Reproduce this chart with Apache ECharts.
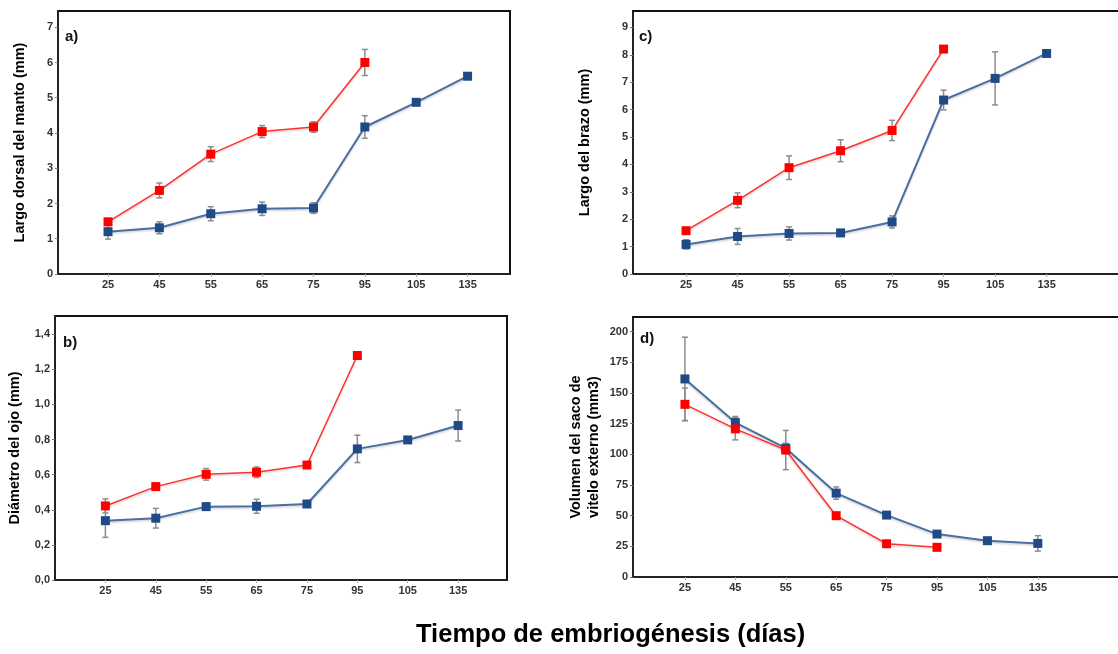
<!DOCTYPE html>
<html>
<head>
<meta charset="utf-8">
<script src="https://cdn.jsdelivr.net/npm/echarts@6/dist/echarts.min.js"></script>
<style>
    html, body { margin: 0; padding: 0; background: #fff; }
    #chart { width: 1118px; height: 654px; }
</style>
</head>
<body>
<div id="chart"></div>
<script>
// dias de embriogenesis (una posicion por categoria)
const days = ['25', '45', '55', '65', '75', '95', '105', '135'];
const dayIdx = [0, 1, 2, 3, 4, 5, 6, 7];

// a) largo dorsal del manto (mm)
const mantoRed = [1.48, 2.37, 3.40, 4.04, 4.17, 6.00];
const mantoRedErr = [0.08, 0.21, 0.21, 0.17, 0.15, 0.37];
const mantoBlue = [1.20, 1.31, 1.71, 1.85, 1.87, 4.17, 4.87, 5.61];
const mantoBlueErr = [0.21, 0.17, 0.20, 0.19, 0.15, 0.32, 0.04, 0.08];
const mantoTicks = [0, 1, 2, 3, 4, 5, 6, 7];

// b) diametro del ojo (mm)
const ojoRed = [0.422, 0.532, 0.602, 0.614, 0.655, 1.279];
const ojoRedErr = [0.04, 0.02, 0.033, 0.03, 0.01, 0];
const ojoBlue = [0.338, 0.352, 0.418, 0.420, 0.433, 0.747, 0.798, 0.880];
const ojoBlueErr = [0.095, 0.056, 0.02, 0.04, 0.012, 0.078, 0.015, 0.088];
const ojoTicks = [0, 0.2, 0.4, 0.6, 0.8, 1.0, 1.2, 1.4];

// c) largo del brazo (mm)
const brazoRed = [1.58, 2.69, 3.88, 4.50, 5.24, 8.21];
const brazoRedErr = [0.08, 0.27, 0.43, 0.40, 0.37, 0.03];
const brazoBlue = [1.08, 1.37, 1.48, 1.50, 1.90, 6.35, 7.14, 8.05];
const brazoBlueErr = [0.17, 0.29, 0.24, 0.10, 0.22, 0.36, 0.97, 0.06];
const brazoTicks = [0, 1, 2, 3, 4, 5, 6, 7, 8, 9];

// d) volumen del saco de vitelo externo (mm3)
const sacoRed = [140.8, 120.8, 103.5, 50.0, 27.1, 24.2];
const sacoRedErr = [13.3, 9, 16, 1, 1, 0];
const sacoBlue = [161.5, 125.9, 105, 68.4, 50.5, 35, 29.6, 27.4];
const sacoBlueErr = [34, 5, 4, 5, 1, 1, 1, 6.3];
const sacoTicks = [0, 25, 50, 75, 100, 125, 150, 175, 200];

const RED = '#ff0000';
const BLUE = '#1f4a86';
const BLUE_LINE = '#4a6e9f';
const FONT = '"Liberation Sans", Arial, sans-serif';

const chart = echarts.init(document.getElementById('chart'), null, { renderer: 'canvas' });

function pairs(vals) {
    return vals.map((v, i) => [dayIdx[i], v]);
}
function errPairs(vals, errs) {
    return vals.map((v, i) => [dayIdx[i], v - errs[i], v + errs[i]]);
}

function errorSeries(g, vals, errs) {
    return {
        type: 'custom',
        xAxisIndex: g,
        yAxisIndex: g,
        z: 1,
        silent: true,
        data: errPairs(vals, errs),
        encode: { x: 0, y: [1, 2] },
        renderItem: function (params, api) {
            const lo = api.coord([api.value(0), api.value(1)]);
            const hi = api.coord([api.value(0), api.value(2)]);
            const w = 3;
            const style = { stroke: '#8c8c8c', lineWidth: 1.5 };
            return {
                type: 'group',
                children: [
                    { type: 'line', shape: { x1: lo[0], y1: lo[1], x2: hi[0], y2: hi[1] }, style: style },
                    { type: 'line', shape: { x1: lo[0] - w, y1: lo[1], x2: lo[0] + w, y2: lo[1] }, style: style },
                    { type: 'line', shape: { x1: hi[0] - w, y1: hi[1], x2: hi[0] + w, y2: hi[1] }, style: style }
                ]
            };
        }
    };
}

function lineSeries(g, vals, color, lineColor, size, width) {
    return {
        type: 'line',
        xAxisIndex: g,
        yAxisIndex: g,
        z: 3,
        data: pairs(vals),
        symbol: 'rect',
        symbolSize: size,
        showAllSymbol: true,
        itemStyle: { color: color },
        lineStyle: {
            color: lineColor, width: width,
            shadowColor: 'rgba(0,0,0,0.18)', shadowBlur: 2, shadowOffsetY: 1.5
        },
        animation: false
    };
}

function panelSeries(g, red, redErr, blue, blueErr) {
    return [
        errorSeries(g, blue, blueErr),
        errorSeries(g, red, redErr),
        lineSeries(g, blue, BLUE, BLUE_LINE, 9, 2),
        lineSeries(g, red, RED, '#ff3030', 9, 1.5)
    ];
}

// los paneles de la derecha siguen fuera del lienzo: sin borde derecho,
// el borde de arriba lo pone un eje x extra
const grids = [
    { left: 58, top: 11, width: 452, height: 263, show: true },
    { left: 55, top: 316, width: 452, height: 264, show: true },
    { left: 633, top: 11, right: 0, height: 263, show: false },
    { left: 633, top: 317, right: 0, height: 260, show: false }
].map(g => Object.assign(g, { borderColor: '#111', borderWidth: 2, containLabel: false }));

const xRanges = [[-0.974, 7.826], [-1, 7.97], [-1.03, 8.386], [-1.03, 8.59]];

const xAxes = xRanges.map((r, i) => ({
    type: 'value',
    gridIndex: i,
    min: r[0],
    max: r[1],
    splitLine: { show: false },
    axisLine: { onZero: false, lineStyle: { color: '#222', width: 2 } },
    axisTick: { show: true, length: 3, customValues: dayIdx, lineStyle: { color: '#aaa' } },
    axisLabel: {
        customValues: dayIdx,
        formatter: v => days[Math.round(v)],
        color: '#333', fontWeight: 'bold', fontSize: 11, fontFamily: FONT, margin: 5
    }
})).concat([2, 3].map(g => ({
    type: 'value',
    gridIndex: g,
    position: 'top',
    min: 0,
    max: 1,
    silent: true,
    splitLine: { show: false },
    axisLine: { onZero: false, lineStyle: { color: '#111', width: 2 } },
    axisTick: { show: false },
    axisLabel: { show: false }
})));

const yDefs = [
    { max: 7.46, ticks: mantoTicks, name: 'Largo dorsal del manto (mm)', gap: 29, fmt: v => String(v) },
    { max: 1.504, ticks: ojoTicks, name: 'Diámetro del ojo (mm)', gap: 31, fmt: v => v.toFixed(1).replace('.', ',') },
    { max: 9.6, ticks: brazoTicks, name: 'Largo del brazo (mm)', gap: 39, fmt: v => String(v) },
    { max: 212, ticks: sacoTicks, name: 'Volumen del saco de\nvitelo externo (mm3)', gap: 30, fmt: v => String(v) }
];

const yAxes = yDefs.map((d, i) => ({
    type: 'value',
    gridIndex: i,
    min: 0,
    max: d.max,
    name: d.name,
    nameLocation: 'middle',
    nameGap: d.gap,
    nameTextStyle: { color: '#000', fontWeight: 'bold', fontSize: 14.5, fontFamily: FONT, lineHeight: 18 },
    splitLine: { show: false },
    axisLine: { show: true, onZero: false, lineStyle: { color: '#222', width: 2 } },
    axisTick: { show: true, length: 3, customValues: d.ticks, lineStyle: { color: '#777' } },
    axisLabel: {
        customValues: d.ticks,
        formatter: d.fmt,
        color: '#333', fontWeight: 'bold', fontSize: 11, fontFamily: FONT, margin: 5
    }
}));

const panelLabels = [['a)', 65, 38], ['b)', 63, 344], ['c)', 639, 38], ['d)', 640, 340]];

const option = {
    animation: false,
    grid: grids,
    xAxis: xAxes,
    yAxis: yAxes,
    graphic: panelLabels.map(p => ({
        type: 'text',
        left: p[1],
        top: p[2] - 9,
        style: { text: p[0], fill: '#111', font: 'bold 15px ' + FONT }
    })).concat([{
        type: 'text',
        left: 416,
        top: 622,
        style: { text: 'Tiempo de embriogénesis (días)', fill: '#000', font: 'bold 25.5px ' + FONT }
    }]),
    series: [].concat(
        panelSeries(0, mantoRed, mantoRedErr, mantoBlue, mantoBlueErr),
        panelSeries(1, ojoRed, ojoRedErr, ojoBlue, ojoBlueErr),
        panelSeries(2, brazoRed, brazoRedErr, brazoBlue, brazoBlueErr),
        panelSeries(3, sacoRed, sacoRedErr, sacoBlue, sacoBlueErr)
    )
};

chart.setOption(option);
window.addEventListener('resize', () => chart.resize());
</script>
</body>
</html>
